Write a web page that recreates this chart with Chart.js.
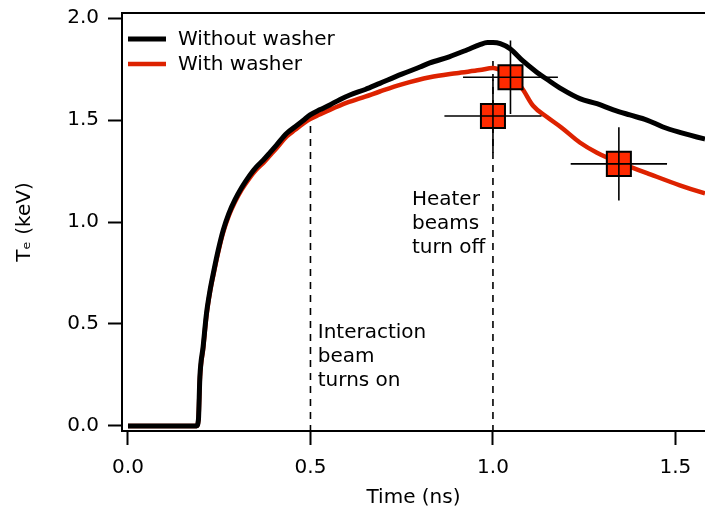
<!DOCTYPE html>
<html>
<head>
<meta charset="utf-8">
<script src="https://cdn.jsdelivr.net/npm/chart.js@4.4.0/dist/chart.umd.min.js"></script>
<style>
  body { margin: 0; background: #fff; }
</style>
</head>
<body>
<canvas id="chart" width="705" height="512"></canvas>
<script>
// ---------------- data ----------------
const seriesNames = ['Without washer', 'With washer'];

const timeNoWasher = [0, 0.188, 0.193, 0.197, 0.206, 0.215, 0.225, 0.234, 0.247, 0.261, 0.276, 0.293, 0.312, 0.334, 0.352, 0.371, 0.389, 0.407, 0.435, 0.458, 0.48, 0.499, 0.525, 0.553, 0.58, 0.608, 0.65, 0.69, 0.75, 0.8, 0.827, 0.88, 0.93, 0.964, 0.985, 1.0, 1.02, 1.047, 1.082, 1.12, 1.148, 1.19, 1.238, 1.285, 1.33, 1.375, 1.422, 1.466, 1.512, 1.581, 1.62];
const teNoWasher   = [0, 0.0, 0.03, 0.24, 0.39, 0.55, 0.667, 0.75, 0.86, 0.96, 1.04, 1.108, 1.17, 1.23, 1.27, 1.304, 1.34, 1.377, 1.435, 1.467, 1.498, 1.525, 1.55, 1.574, 1.6, 1.623, 1.65, 1.68, 1.725, 1.76, 1.78, 1.81, 1.845, 1.87, 1.88, 1.88, 1.875, 1.85, 1.79, 1.735, 1.70, 1.65, 1.605, 1.58, 1.55, 1.525, 1.50, 1.466, 1.44, 1.407, 1.39];

const timeWasher = [0, 0.188, 0.193, 0.197, 0.206, 0.215, 0.225, 0.234, 0.247, 0.261, 0.276, 0.293, 0.312, 0.334, 0.352, 0.371, 0.389, 0.407, 0.435, 0.458, 0.48, 0.499, 0.525, 0.553, 0.6, 0.65, 0.69, 0.75, 0.827, 0.9, 0.964, 1.0, 1.027, 1.055, 1.082, 1.11, 1.148, 1.19, 1.238, 1.285, 1.348, 1.422, 1.512, 1.581, 1.62];
const teWasher   = [0, 0.0, 0.03, 0.23, 0.38, 0.54, 0.66, 0.74, 0.85, 0.95, 1.03, 1.098, 1.16, 1.218, 1.258, 1.29, 1.326, 1.362, 1.42, 1.452, 1.482, 1.505, 1.527, 1.55, 1.585, 1.615, 1.64, 1.675, 1.71, 1.73, 1.745, 1.755, 1.74, 1.71, 1.65, 1.57, 1.515, 1.46, 1.39, 1.34, 1.29, 1.24, 1.18, 1.14, 1.12];

// measured points with error bars
const measTime   = [1.0, 1.048, 1.345];
const measTe     = [1.52, 1.71, 1.285];
const measTimeErr = [0.133, 0.13, 0.132];
const measTeErr   = [0.18, 0.18, 0.18];

// event markers (dashed verticals) and their labels
const eventTime = [0.5, 1.0];
const eventTop  = [1.48, 1.8];
const eventLabels = [['Interaction', 'beam', 'turns on'], ['Heater', 'beams', 'turn off']];
const labelPos = [[0.52, 0.455], [0.778, 1.107]];

const xTicks = [0, 0.5, 1.0, 1.5];
const yTicks = [0, 0.5, 1.0, 1.5, 2.0];

// ---------------- build datasets ----------------
const FONT = "'DejaVu Sans', sans-serif";
const RED_LINE = '#dd2200';
const RED_FILL = '#ff2a00';

function zip(xs, ys) { return xs.map((x, i) => ({ x: x, y: ys[i] })); }

let errData = [];
measTime.forEach((t, i) => {
  errData.push({ x: t - measTimeErr[i], y: measTe[i] }, { x: t + measTimeErr[i], y: measTe[i] }, { x: t, y: null });
  errData.push({ x: t, y: measTe[i] - measTeErr[i] }, { x: t, y: measTe[i] + measTeErr[i] }, { x: t, y: null });
});

let eventSets = eventTime.map((t, i) => ({
  data: [{ x: t, y: -0.03 }, { x: t, y: eventTop[i] }],
  borderColor: '#000', borderWidth: 1.6, borderDash: [7, 6],
  pointRadius: 0, order: 5
}));

let ctx = document.getElementById('chart').getContext('2d');

// legend, top frame line and text labels
const extras = {
  id: 'extras',
  afterDatasetsDraw(chart) {
    const c = chart.ctx, a = chart.chartArea;
    const xs = chart.scales.x, ys = chart.scales.y;
    c.save();
    c.strokeStyle = '#000';
    c.lineWidth = 2;
    c.beginPath();
    c.moveTo(a.left - 1, a.top);
    c.lineTo(a.right, a.top);
    c.stroke();

    c.font = '20px ' + FONT;
    c.fillStyle = '#000';
    c.textBaseline = 'middle';
    c.textAlign = 'left';
    eventLabels.forEach((lines, i) => {
      const px = xs.getPixelForValue(labelPos[i][0]);
      const py = ys.getPixelForValue(labelPos[i][1]);
      lines.forEach((s, j) => c.fillText(s, px, py + j * 24));
    });

    const colors = ['#000', RED_LINE];
    const widths = [5, 4.5];
    seriesNames.forEach((name, i) => {
      const y = a.top + 26 + i * 25;
      c.strokeStyle = colors[i];
      c.lineWidth = widths[i];
      c.beginPath();
      c.moveTo(a.left + 6, y);
      c.lineTo(a.left + 44, y);
      c.stroke();
      c.fillStyle = '#000';
      c.fillText(name, a.left + 56, y + 1);
    });
    c.restore();
  }
};

let teChart = new Chart(ctx, {
  type: 'line',
  data: {
    datasets: [
      { label: 'errors', data: errData, borderColor: '#000', borderWidth: 1.6, pointRadius: 0, spanGaps: false, order: 0 },
      { label: 'measured', data: zip(measTime, measTe), showLine: false, pointStyle: 'rect', pointRadius: 17,
        backgroundColor: RED_FILL, borderColor: '#000', pointBorderWidth: 2, order: 1 },
      { label: seriesNames[0], data: zip(timeNoWasher, teNoWasher), borderColor: '#000', borderWidth: 5,
        pointRadius: 0, cubicInterpolationMode: 'monotone', order: 2 },
      { label: seriesNames[1], data: zip(timeWasher, teWasher), borderColor: RED_LINE, borderWidth: 4.5,
        pointRadius: 0, cubicInterpolationMode: 'monotone', order: 3 },
      ...eventSets
    ]
  },
  options: {
    responsive: false,
    animation: false,
    layout: { autoPadding: false, padding: { top: 13, left: 0, right: 0, bottom: 0 } },
    plugins: { legend: { display: false }, tooltip: { enabled: false } },
    scales: {
      x: {
        type: 'linear', min: -0.0164, max: 1.581,
        afterFit: s => { s.height = 81; s.paddingLeft = 0; s.paddingRight = 0; },
        afterBuildTicks: s => { s.ticks = xTicks.map(v => ({ value: v })); },
        border: { display: true, color: '#000', width: 2 },
        grid: { drawOnChartArea: false, drawTicks: true, tickLength: 14, tickWidth: 2, tickColor: '#000' },
        ticks: { color: '#000', padding: 11, maxRotation: 0, font: { family: FONT, size: 20 },
                 callback: v => Number(v).toFixed(1) },
        title: { display: true, text: 'Time (ns)', color: '#000', font: { family: FONT, size: 20 }, padding: { top: 0, bottom: 2 } }
      },
      y: {
        type: 'linear', min: -0.025, max: 2.025,
        afterFit: s => { s.width = 122; s.paddingTop = 0; s.paddingBottom = 0; },
        afterBuildTicks: s => { s.ticks = yTicks.map(v => ({ value: v })); },
        border: { display: true, color: '#000', width: 2 },
        grid: { drawOnChartArea: false, drawTicks: true, tickLength: 14, tickWidth: 2, tickColor: '#000' },
        ticks: { color: '#000', padding: 9, font: { family: FONT, size: 20 },
                 callback: v => Number(v).toFixed(1) },
        title: { display: true, text: 'Tₑ (keV)', color: '#000', font: { family: FONT, size: 20 }, padding: { top: 13, bottom: 0 } }
      }
    }
  },
  plugins: [extras]
});
</script>
</body>
</html>
